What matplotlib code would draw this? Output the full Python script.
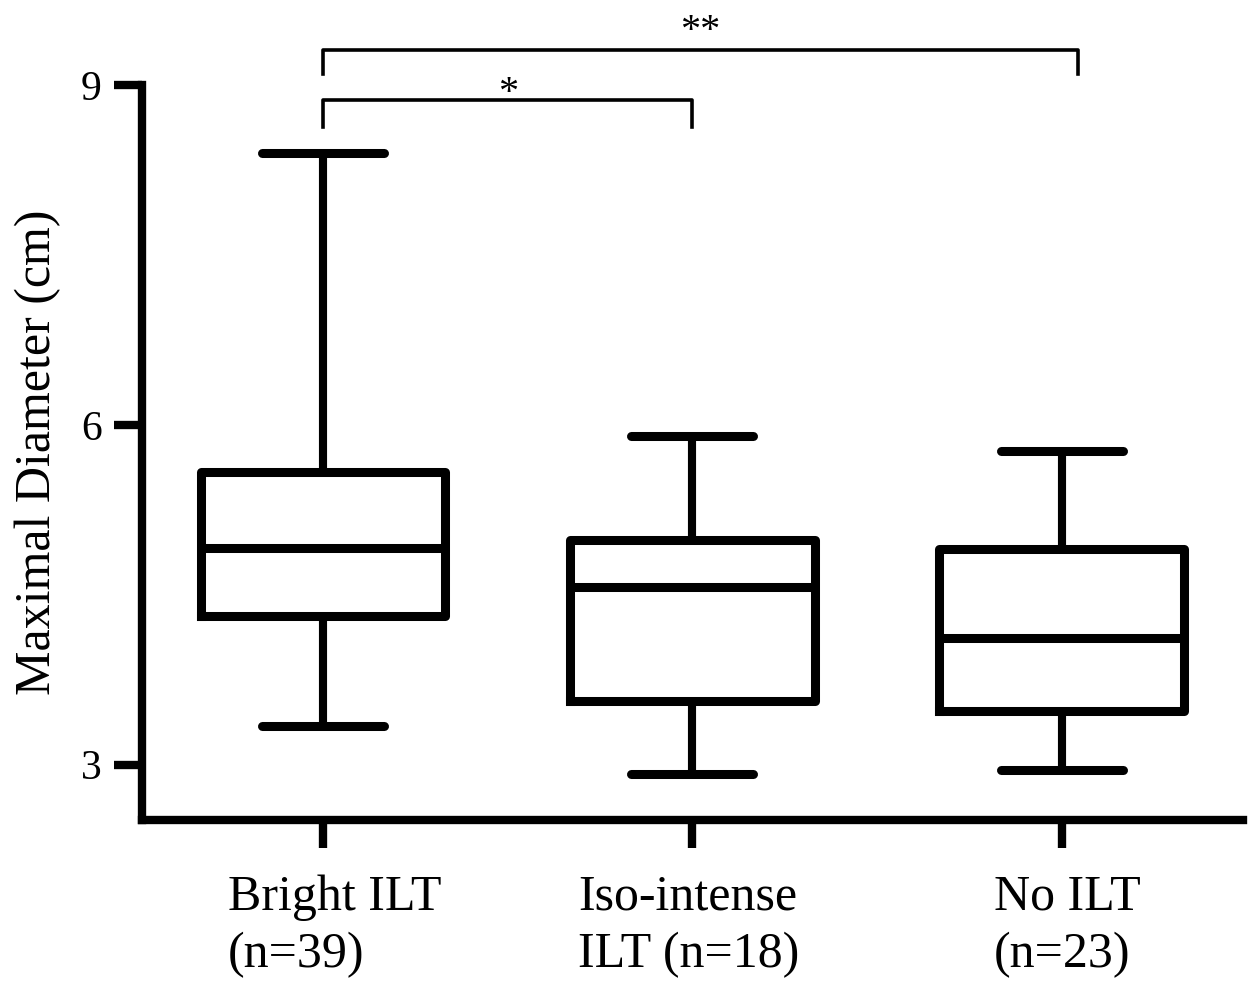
#!/usr/bin/env python
"""
Box plot of maximal diameter by ILT group, with significance brackets.
"""
import matplotlib
matplotlib.use("Agg")
import matplotlib.pyplot as plt
import matplotlib.transforms as mtransforms

# Group labels and box statistics (cm)
groups = ["Bright ILT\n(n=39)", "Iso-intense\nILT (n=18)", "No ILT\n(n=23)"]
whisker_low = [3.34, 2.92, 2.95]
q1 = [4.31, 3.56, 3.47]
median = [4.91, 4.57, 4.12]
q3 = [5.58, 4.98, 4.90]
whisker_high = [8.40, 5.90, 5.77]

y_ticks = [3, 6, 9]

# Significance brackets: (left x, right x, bar height, leg bottom, label, label height)
bracket_left = [1, 1]
bracket_right = [2, 3.043]
bracket_top = [8.87, 9.31]
bracket_leg = [8.63, 9.10]
bracket_text = ["*", "**"]
bracket_text_y = [8.84, 9.39]


def main():
    plt.rcParams["font.family"] = ["Liberation Serif", "DejaVu Serif"]

    fig = plt.figure(figsize=(12.54, 9.9), dpi=100)
    ax = fig.add_axes([0.1132, 0.1717, 0.878, 0.7424])

    positions = [1, 2, 3]
    stats = []
    for i in range(len(groups)):
        stats.append({
            "whislo": whisker_low[i],
            "q1": q1[i],
            "med": median[i],
            "q3": q3[i],
            "whishi": whisker_high[i],
            "fliers": [],
        })

    lw = 6.5
    ax.bxp(stats, positions=positions, widths=0.663, capwidths=0.33,
           showfliers=False,
           boxprops=dict(color="black", linewidth=lw, solid_joinstyle="round"),
           medianprops=dict(color="black", linewidth=lw, solid_capstyle="butt"),
           whiskerprops=dict(color="black", linewidth=lw * 0.9, solid_capstyle="butt"),
           capprops=dict(color="black", linewidth=lw, solid_capstyle="round"))

    ax.set_xlim(0.51, 3.49)
    ax.set_ylim(2.51, 9.0)

    # Only left and bottom axis lines
    for side in ["top", "right"]:
        ax.spines[side].set_visible(False)
    for side in ["left", "bottom"]:
        ax.spines[side].set_linewidth(6.0)
        ax.spines[side].set_capstyle("projecting")

    ax.set_yticks(y_ticks)
    ax.set_yticklabels([str(t) for t in y_ticks], fontsize=30)
    ax.set_xticks(positions)
    ax.set_xticklabels(groups, fontsize=36, multialignment="left", linespacing=1.3)
    ax.tick_params(axis="both", direction="out", length=20, width=6, color="black")
    ax.tick_params(axis="y", pad=9)
    ax.tick_params(axis="x", pad=19)

    # small horizontal nudges so the label blocks sit like the original
    nudges = [12, -4, 5]
    for lab, dx in zip(ax.get_xticklabels(), nudges):
        offset = mtransforms.ScaledTranslation(dx / 100, 0, fig.dpi_scale_trans)
        lab.set_transform(lab.get_transform() + offset)

    ax.set_ylabel("Maximal Diameter (cm)", fontsize=36, labelpad=14)

    # Significance brackets drawn above the data area
    for xl, xr, yt, yb, txt, ty in zip(bracket_left, bracket_right, bracket_top,
                                       bracket_leg, bracket_text, bracket_text_y):
        ax.plot([xl, xl, xr, xr], [yb, yt, yt, yb], color="black", linewidth=2.6,
                solid_joinstyle="round", clip_on=False)
        ax.text((xl + xr) / 2, ty, txt, ha="center", va="baseline", fontsize=29,
                clip_on=False)

    fig.savefig("out.png", dpi=100, facecolor="white")


if __name__ == "__main__":
    main()
